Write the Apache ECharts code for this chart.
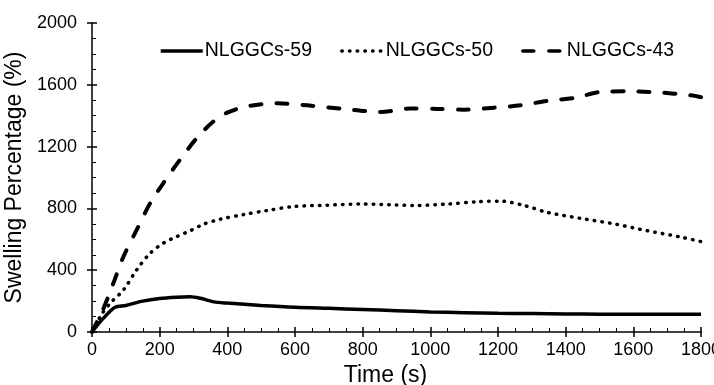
<!DOCTYPE html>
<html>
<head>
<meta charset="utf-8">
<script src="https://cdn.jsdelivr.net/npm/echarts@6/dist/echarts.min.js"></script>
<style>
  html, body { margin: 0; padding: 0; background: #fff; }
  #chart { width: 714px; height: 385px; }
</style>
</head>
<body>
<div id="chart"></div>
<script>
// Swelling data: time (s) / swelling (%)
const seriesNames = ["NLGGCs-59", "NLGGCs-50", "NLGGCs-43"];

const time59 = [0, 30, 68, 100, 150, 200, 250, 290, 320, 360, 400, 500, 600, 700, 800, 900, 1000, 1100, 1200, 1300, 1400, 1500, 1600, 1700, 1800];
const swell59 = [0, 80, 160, 172, 200, 217, 225, 228, 218, 195, 187, 172, 160, 153, 146, 138, 130, 125, 121, 119, 117, 115, 115, 115, 115];

const time50 = [0, 30, 60, 93, 132, 172, 211, 251, 290, 330, 379, 448, 517, 596, 695, 793, 900, 951, 1050, 1139, 1208, 1277, 1346, 1445, 1543, 1642, 1741, 1800];
const swell50 = [0, 120, 200, 272, 402, 510, 575, 618, 655, 698, 730, 760, 786, 812, 821, 828, 822, 819, 828, 843, 847, 819, 774, 735, 700, 655, 614, 585];

const time43 = [0, 34, 63, 93, 132, 172, 211, 260, 310, 359, 398, 458, 547, 636, 744, 853, 941, 1020, 1099, 1188, 1267, 1346, 1425, 1504, 1583, 1672, 1770, 1800];
const swell43 = [0, 153, 315, 488, 661, 834, 964, 1115, 1256, 1363, 1418, 1461, 1480, 1467, 1444, 1424, 1446, 1444, 1439, 1452, 1467, 1496, 1515, 1554, 1558, 1551, 1532, 1520];

const pairs = (xs, ys) => xs.map((x, i) => [x, ys[i]]);

const chart = echarts.init(document.getElementById("chart"));
const font = "Liberation Sans, Arial, sans-serif";

// main axes: line, labels, ticks inside (major + minor)
const axisMain = {
  axisLine: { show: true, onZero: false, lineStyle: { color: "#000", width: 1.5 } },
  axisTick: { show: true, inside: true, length: 5, lineStyle: { color: "#000", width: 1.5 } },
  minorTick: { show: true, splitNumber: 4, length: 4, lineStyle: { color: "#000", width: 1 } },
  splitLine: { show: false },
  minorSplitLine: { show: false },
  axisLabel: { color: "#000", fontSize: 18, fontFamily: font, formatter: (v) => String(v) }
};

// overlay axes: only the outer half of the major ticks
const axisOuter = {
  axisLine: { show: false },
  axisTick: { show: true, inside: false, length: 5, lineStyle: { color: "#000", width: 1.5 } },
  axisLabel: { show: false },
  splitLine: { show: false }
};

const option = {
  animation: false,
  backgroundColor: "#fff",
  grid: { left: 92, right: 13, top: 23, bottom: 53, outerBoundsMode: "none", containLabel: false },
  legend: {
    data: seriesNames,
    left: 154,
    top: 36,
    itemWidth: 42,
    itemHeight: 14,
    itemGap: 28,
    itemStyle: { opacity: 0 },
    lineStyle: { width: 3.5 },
    textStyle: { color: "#000", fontSize: 19.5, fontFamily: font, padding: [0, 0, 0, -3] }
  },
  xAxis: [
    Object.assign({}, axisMain, {
      type: "value",
      position: "bottom",
      min: 0,
      max: 1800,
      interval: 200,
      axisLabel: Object.assign({}, axisMain.axisLabel, { margin: 9 }),
      name: "Time (s)",
      nameLocation: "middle",
      nameGap: 28,
      nameTextStyle: { color: "#000", fontFamily: font, fontSize: 23, padding: [0, 22, 0, 0] }
    }),
    Object.assign({}, axisOuter, { type: "value", position: "bottom", min: 0, max: 1800, interval: 200 })
  ],
  yAxis: [
    Object.assign({}, axisMain, {
      type: "value",
      position: "left",
      min: 0,
      max: 2000,
      interval: 400,
      axisLabel: Object.assign({}, axisMain.axisLabel, { margin: 15 }),
      name: "Swelling Percentage (%)",
      nameLocation: "middle",
      nameGap: 58,
      nameTextStyle: { color: "#000", fontFamily: font, fontSize: 23 }
    }),
    Object.assign({}, axisOuter, { type: "value", position: "left", min: 0, max: 2000, interval: 400 })
  ],
  series: [
    {
      name: seriesNames[0],
      type: "line",
      smooth: 0.3,
      symbol: "none",
      data: pairs(time59, swell59),
      lineStyle: { color: "#000", width: 3.5, type: "solid" },
      itemStyle: { color: "#000" }
    },
    {
      name: seriesNames[1],
      type: "line",
      smooth: 0.3,
      symbol: "none",
      data: pairs(time50, swell50),
      lineStyle: { color: "#000", width: 3.5, type: [0.5, 7.2], cap: "round" },
      itemStyle: { color: "#000" }
    },
    {
      name: seriesNames[2],
      type: "line",
      smooth: 0.3,
      symbol: "none",
      data: pairs(time43, swell43),
      lineStyle: { color: "#000", width: 4, type: [11, 15], cap: "round" },
      itemStyle: { color: "#000" }
    }
  ]
};

chart.setOption(option);
</script>
</body>
</html>
